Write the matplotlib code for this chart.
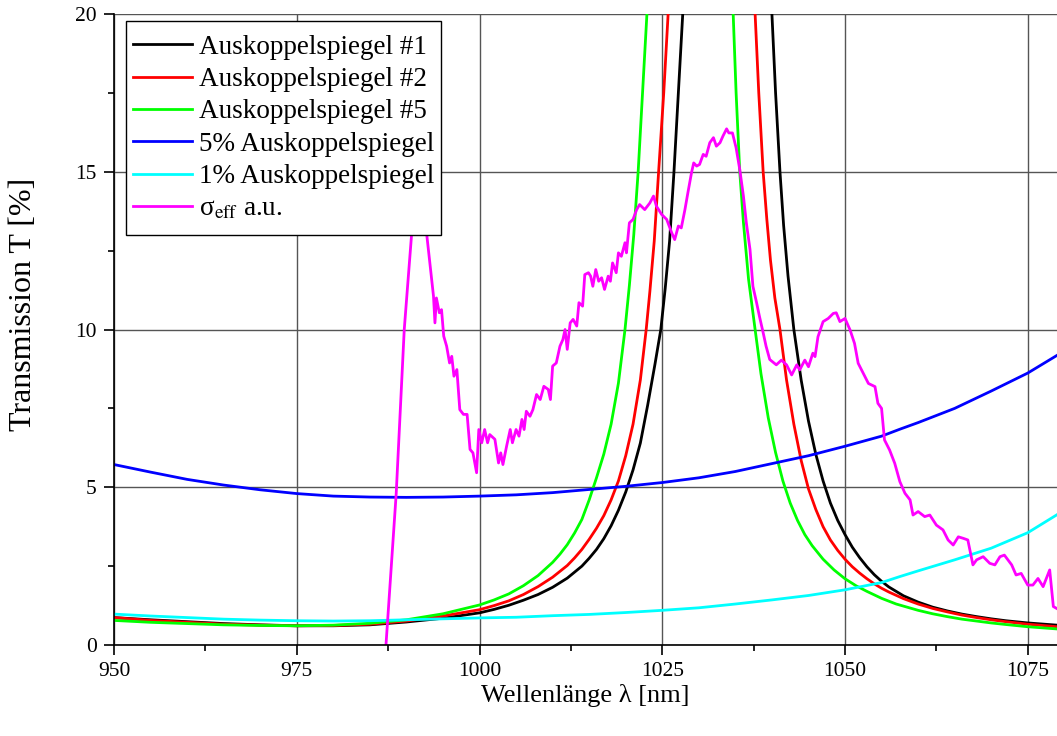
import matplotlib
matplotlib.use("Agg")
import matplotlib.pyplot as plt
from matplotlib.patches import Rectangle
from matplotlib.ticker import MultipleLocator

plt.rcParams['font.family'] = ['Liberation Serif', 'DejaVu Serif']
plt.rcParams['mathtext.fontset'] = 'stix'

# Auskoppelspiegel #1
wl_m1 = [950, 955, 960, 965, 970, 975, 980, 985, 990, 995, 1000, 1002, 1004, 1006, 1008,
         1010, 1012, 1014, 1015, 1016, 1017, 1018, 1019, 1020, 1021, 1022, 1023, 1024,
         1024.8, 1025.4, 1026.0, 1026.6, 1027.2, 1027.8, 1033.9, 1040, 1040.5, 1041.1,
         1041.6, 1042.2, 1043, 1044, 1045, 1046, 1047, 1048, 1049, 1050, 1051, 1052,
         1053, 1054, 1055, 1056, 1058, 1060, 1062, 1064, 1066, 1068, 1070, 1072, 1075,
         1079]
t_m1 = [0.87, 0.8, 0.74, 0.68, 0.64, 0.61, 0.61, 0.64, 0.73, 0.85, 1.02, 1.13, 1.26, 1.42, 1.6,
        1.83, 2.12, 2.5, 2.75, 3.03, 3.37, 3.78, 4.27, 4.85, 5.55, 6.4, 7.6, 8.9,
        10.0, 11.3, 12.8, 15.0, 17.5, 20.0, 60.0, 20.0, 17.5, 15.0,
        13.3, 11.7, 10.0, 8.4, 7.1, 6.05, 5.2, 4.5, 3.95, 3.5, 3.1, 2.77,
        2.48, 2.23, 2.02, 1.84, 1.56, 1.36, 1.2, 1.08, 0.98, 0.9, 0.83, 0.77, 0.7,
        0.63]

# Auskoppelspiegel #2
wl_m2 = [950, 955, 960, 965, 970, 975, 980, 985, 990, 995, 1000, 1002, 1004, 1006, 1008,
         1010, 1012, 1013, 1014, 1015, 1016, 1017, 1018, 1019, 1020, 1021, 1022, 1022.8,
         1023.3, 1023.9, 1024.5, 1025.2, 1025.8, 1031.75, 1037.7, 1038.2, 1038.8, 1039.3,
         1039.8, 1040.4, 1041.1, 1042, 1043, 1044, 1045, 1046, 1047, 1048, 1049, 1050,
         1051, 1052, 1053, 1054, 1055, 1056, 1058, 1060, 1062, 1064, 1066, 1068, 1070,
         1072, 1075, 1079]
t_m2 = [0.87, 0.78, 0.72, 0.66, 0.63, 0.61, 0.62, 0.66, 0.76, 0.92, 1.12, 1.25, 1.4, 1.6, 1.85,
        2.15, 2.52, 2.76, 3.03, 3.35, 3.7, 4.1, 4.6, 5.2, 6.0, 7.0, 8.4, 10.0,
        11.2, 12.8, 15.0, 17.5, 20.0, 60.0, 20.0, 17.5, 15.0, 13.5,
        12.2, 11.0, 10.0, 8.4, 7.0, 5.85, 4.95, 4.3, 3.75, 3.33, 3.0, 2.72,
        2.48, 2.28, 2.1, 1.94, 1.8, 1.68, 1.47, 1.3, 1.16, 1.05, 0.95, 0.87, 0.8,
        0.74, 0.66, 0.58]

# Auskoppelspiegel #5
wl_m5 = [950, 955, 960, 965, 970, 975, 980, 985, 990, 995, 1000, 1002, 1004, 1006, 1008,
         1010, 1011, 1012, 1013, 1014, 1015, 1016, 1017, 1018, 1019, 1019.9, 1020.5,
         1021.1, 1021.7, 1022.3, 1022.9, 1028.8, 1034.7, 1035.1, 1035.6, 1036.1, 1036.8,
         1037.7, 1038.5, 1039.5, 1040.5, 1041.5, 1042.5, 1043.5, 1044.5, 1045.5, 1047,
         1048.5, 1050, 1051.5, 1053, 1055, 1057, 1060, 1062, 1064, 1066, 1068, 1070,
         1072, 1075, 1079]
t_m5 = [0.78, 0.72, 0.68, 0.64, 0.62, 0.61, 0.63, 0.69, 0.8, 0.99, 1.27, 1.43, 1.62, 1.88, 2.2,
        2.62, 2.88, 3.18, 3.55, 3.98, 4.6, 5.3, 6.05, 7.0, 8.3, 10.0, 11.4,
        13.0, 15.0, 17.5, 20.0, 60.0, 20.0, 17.5, 15.0, 13.4, 11.6,
        10.0, 8.6, 7.2, 6.1, 5.2, 4.5, 3.95, 3.5, 3.15, 2.72,
        2.38, 2.1, 1.88, 1.7, 1.48, 1.3, 1.1, 0.99, 0.9, 0.82, 0.76, 0.7,
        0.65, 0.58, 0.51]

# 5% und 1% Auskoppelspiegel
wl_ref = [950, 955, 960, 965, 970, 975, 980, 985, 990, 995, 1000, 1005, 1010, 1015,
          1020, 1025, 1030, 1035, 1040, 1045, 1050, 1055, 1057.5, 1060, 1065, 1070,
          1075, 1079]
t_5pct = [5.72, 5.48, 5.25, 5.07, 4.92, 4.8, 4.72, 4.69, 4.68, 4.69, 4.72, 4.76, 4.83, 4.93,
          5.03, 5.15, 5.3, 5.5, 5.75, 6.0, 6.3, 6.62, 6.84, 7.05, 7.5, 8.05,
          8.62, 9.18]
t_1pct = [0.98, 0.92, 0.87, 0.82, 0.79, 0.77, 0.76, 0.77, 0.8, 0.83, 0.86, 0.88, 0.93, 0.97,
          1.03, 1.1, 1.18, 1.3, 1.43, 1.57, 1.75, 1.98, 2.17, 2.35, 2.7, 3.07,
          3.56, 4.13]

# effektiver Wirkungsquerschnitt (willkürliche Einheiten)
wl_sig = [987.2, 988.6, 989.7, 990.7, 991.5, 992.0, 992.5, 992.8, 993.2, 993.7, 993.9,
          994.1, 994.5, 994.8, 995.1, 995.5, 995.9, 996.2, 996.5, 996.9, 997.3, 997.8,
          998.3, 998.7, 999.1, 999.6, 999.9, 1000.3, 1000.7, 1001.1, 1001.4, 1002.1,
          1002.6, 1002.9, 1003.2, 1003.7, 1004.2, 1004.5, 1005.0, 1005.4, 1005.8, 1006.1,
          1006.4, 1006.9, 1007.3, 1007.8, 1008.3, 1008.8, 1009.4, 1009.7, 1010.0, 1010.5,
          1011.0, 1011.4, 1011.7, 1012.0, 1012.4, 1012.8, 1013.3, 1013.6, 1014.1, 1014.4,
          1014.9, 1015.2, 1015.5, 1015.9, 1016.3, 1016.7, 1017.1, 1017.6, 1017.9, 1018.2,
          1018.7, 1019.0, 1019.4, 1019.9, 1020.1, 1020.5, 1021.0, 1021.5, 1021.9, 1022.6,
          1023.3, 1023.8, 1024.2, 1024.9, 1025.6, 1026.3, 1026.7, 1027.2, 1027.6, 1028.1,
          1028.5, 1029.0, 1029.3, 1029.7, 1030.1, 1030.6, 1031.0, 1031.5, 1032.0, 1032.4,
          1032.9, 1033.3, 1033.8, 1034.1, 1034.6, 1035.1, 1035.6, 1036.1, 1036.5, 1037.0,
          1037.4, 1037.9, 1038.3, 1038.8, 1039.2, 1039.7, 1040.6, 1041.3, 1042.0, 1042.7,
          1043.4, 1043.8, 1044.5, 1045.0, 1045.6, 1045.9, 1046.3, 1047.0, 1047.7, 1048.4,
          1048.8, 1049.3, 1050.0, 1050.7, 1051.3, 1051.8, 1052.5, 1053.2, 1054.1, 1054.5,
          1055.0, 1055.4, 1056.1, 1056.8, 1057.5, 1058.2, 1058.9, 1059.3, 1060.0, 1060.9,
          1061.6, 1062.5, 1063.4, 1064.1, 1064.8, 1065.5, 1066.2, 1066.8, 1067.5, 1068.0,
          1068.9, 1069.8, 1070.5, 1071.2, 1071.8, 1072.8, 1073.4, 1074.1, 1075.0, 1075.7,
          1076.4, 1077.1, 1078.0, 1078.5, 1078.95]
sig_eff = [0.0, 4.8, 10.0, 13.0, 15.5, 16.5, 15.0, 12.96, 12.11, 11.06, 10.21,
           11.0, 10.53, 10.63, 9.79, 9.47, 8.94, 9.15, 8.52, 8.73, 7.46, 7.31,
           7.31, 6.2, 6.09, 5.46, 6.83, 6.41, 6.83, 6.41, 6.67, 6.52,
           5.77, 6.09, 5.72, 6.3, 6.83, 6.41, 6.83, 6.62, 7.15, 6.83,
           7.41, 7.25, 7.46, 7.94, 7.78, 8.2, 8.1, 7.78, 8.84, 8.94,
           9.47, 9.68, 10.0, 9.37, 10.21, 10.32, 10.11, 10.85, 10.74, 11.74,
           11.8, 11.69, 11.37, 11.9, 11.53, 11.64, 11.27, 11.69, 11.53, 12.11,
           11.8, 12.43, 12.32, 12.75, 12.43, 13.38, 13.49, 13.8, 13.96, 13.8,
           14.01, 14.23, 13.91, 13.65, 13.49, 13.06, 12.85, 13.28, 13.22, 13.8,
           14.33, 14.97, 15.28, 15.18, 15.23, 15.55, 15.49, 15.92, 16.08, 15.81,
           15.92, 16.13, 16.36, 16.23, 16.23, 15.76, 15.07, 14.23, 13.38, 12.54,
           11.37, 10.85, 10.41, 9.9, 9.47, 9.05, 8.88, 9.03, 8.88, 8.56,
           8.88, 8.72, 9.03, 8.82, 9.25, 9.14, 9.77, 10.25, 10.35, 10.51,
           10.53, 10.25, 10.35, 9.98, 9.56, 8.93, 8.61, 8.29, 8.19, 7.66,
           7.5, 6.5, 6.18, 5.76, 5.18, 4.81, 4.6, 4.12, 4.23, 4.07,
           4.12, 3.8, 3.65, 3.33, 3.17, 3.43, 3.38, 3.33, 2.54, 2.7,
           2.8, 2.59, 2.54, 2.8, 2.85, 2.54, 2.22, 2.27, 1.9, 1.9,
           2.11, 1.85, 2.38, 1.22, 1.16]

fig = plt.figure(figsize=(10.57, 7.36), dpi=100)
ax = fig.add_axes([0.1079, 0.1236, 0.8921, 0.8574])

lw = 2.0
ax.plot(wl_m1, t_m1, color='#000000', lw=lw, label='Auskoppelspiegel #1')
ax.plot(wl_m2, t_m2, color='#ff0000', lw=lw, label='Auskoppelspiegel #2')
ax.plot(wl_m5, t_m5, color='#00ff00', lw=lw, label='Auskoppelspiegel #5')
ax.plot(wl_ref, t_5pct, color='#0000ff', lw=lw, label='5% Auskoppelspiegel')
ax.plot(wl_ref, t_1pct, color='#00ffff', lw=lw, label='1% Auskoppelspiegel')
ax.plot(wl_sig, sig_eff, color='#ff00ff', lw=lw, label=r'σ$_{\mathrm{eff}}$ a.u.')

ax.set_xlim(950, 1079)
ax.set_ylim(0, 20)
ax.xaxis.set_major_locator(MultipleLocator(25))
ax.xaxis.set_minor_locator(MultipleLocator(12.5))
ax.yaxis.set_major_locator(MultipleLocator(5))
ax.yaxis.set_minor_locator(MultipleLocator(2.5))
ax.grid(True, which='major', color='#555555', lw=1.0)
ax.set_axisbelow(True)

for side in ('top', 'right'):
    ax.spines[side].set_visible(False)
for side in ('left', 'bottom'):
    ax.spines[side].set_linewidth(1.2)
ax.tick_params(which='major', direction='out', length=7.5, width=1.2, labelsize=15.5, pad=5)
ax.tick_params(which='minor', direction='out', length=4.5, width=1.2)

ax.set_xlabel('Wellenlänge λ [nm]', fontsize=19, labelpad=2)
ax.set_ylabel('Transmission T [%]', fontsize=23)
ax.yaxis.set_label_coords(-0.081, 0.54)

leg = ax.legend(loc='upper left', bbox_to_anchor=(0.0127, 0.9778), borderaxespad=0,
                fontsize=19.5, frameon=False, handlelength=2.2, handletextpad=0.25,
                labelspacing=0.27, borderpad=0.25)

# Rahmen um die Legende, oben und unten etwas großzügiger
fig.canvas.draw()
bb = leg.get_window_extent().transformed(fig.transFigure.inverted())
dy = 7 / fig.bbox.height
ax.add_patch(Rectangle((bb.x0, bb.y0 - dy), bb.width, bb.height + 2 * dy,
                       transform=fig.transFigure, facecolor='white', edgecolor='black',
                       lw=1.0, zorder=4, clip_on=False))

fig.savefig('out.png', dpi=100)
